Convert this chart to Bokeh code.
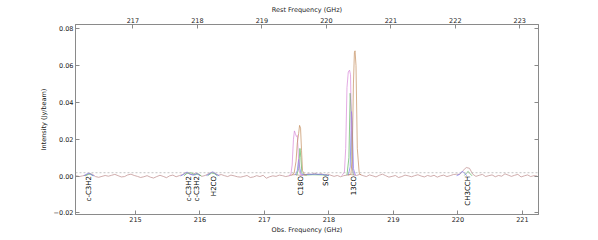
import numpy as np
from math import pi
from bokeh.plotting import figure
from bokeh.models import (Range1d, LinearAxis, FixedTicker, Span,
                          CustomJSTickFormatter)
from bokeh.core.properties import value
from bokeh.embed import file_html
from bokeh.resources import INLINE

# ---------------- data ----------------
obs_range = (214.07, 221.25)          # observed frequency range (GHz)
rest_offset = 2.04                    # rest - obs (GHz)
y_range = (-0.0209, 0.0823)
obs_ticks = [215, 216, 217, 218, 219, 220, 221]
rest_ticks = [217, 218, 219, 220, 221, 222, 223]
y_ticks = [-0.02, 0.0, 0.02, 0.04, 0.06, 0.08]
threshold = 0.0018                    # dashed noise level

# full-band spectrum, channel grid
base_start = 214.08
base_step = 0.05
base_mjy = [0.2, -0.3, 0.1, 0.6, 1.3, 1.0, -0.3, -0.7, -0.2, 0.3,
            -0.1, 0.4, 0.9, 0.2, -0.5, -0.3, 0.6, 1.0, 0.3, -0.2,
            -0.8, -0.4, 0.2, -0.6, -1.1, -0.3, 0.4, -0.2, -0.9, 0.1,
            0.5, -0.4, 0.2, 0.8, 1.8, 1.5, 0.7, 1.6, 0.9, -0.2,
            0.3, 1.2, 2.0, 1.6, 0.4, 0.8, 0.2, -0.3, 0.5, 0.1,
            -0.4, -0.6, -0.2, 0.3, -0.8, -0.5, 0.2, -0.3, 0.4, -1.2,
            -0.4, 0.1, -0.2, 0.5, 0.2, -0.3, 0.1, 0.6, 0.8, 0.5,
            0.3, 0.6, 1.2, 0.9, 1.5, 0.8, 1.3, 0.6, 1.0, 0.4,
            -0.2, 0.3, -0.4, 0.2, 0.5, 0.8, 0.6, 0.3, 0.9, 0.2,
            -0.3, 0.6, 0.1, -0.5, 0.4, 1.0, 0.2, -0.6, -0.2, 0.3,
            -0.8, -0.3, 0.5, 0.1, -0.4, 0.2, 0.7, 0.0, -0.5, 0.3,
            -0.2, 0.4, -0.6, 0.1, 0.5, -0.3, 0.2, 0.8, 1.0, 0.9,
            3.0, 4.6, 4.2, 1.0, -0.2, 0.4, 0.9, -0.3, 0.2, 0.6,
            -0.4, 0.3, -0.1, 1.2, 0.5, -0.2, 0.4, 0.9, -0.5, 0.1,
            0.6, -0.3, 0.2, 0.0]

# line segments of the other spectra (freq GHz, intensity mJy/beam)
pink_f = [[217.38, 217.41, 217.43, 217.45, 217.465, 217.48, 217.495, 217.51, 217.525, 217.54, 217.56, 217.6],
          [218.2, 218.24, 218.26, 218.28, 218.3, 218.32, 218.335, 218.35, 218.37, 218.4]]
pink_v = [[0.2, 1.0, 6.0, 20.0, 24.5, 23.0, 21.5, 22.0, 12.0, 3.0, 0.8, 0.3],
          [0.3, 2.0, 15.0, 48.0, 56.5, 57.5, 55.0, 25.0, 3.0, 0.4]]

tan_f = [[217.42, 217.46, 217.49, 217.51, 217.53, 217.545, 217.56, 217.575, 217.59, 217.62, 217.66],
         [218.3, 218.34, 218.36, 218.38, 218.395, 218.405, 218.42, 218.44, 218.47, 218.5]]
tan_v = [[0.5, 1.5, 8.0, 18.0, 23.0, 27.5, 26.0, 14.0, 3.0, 0.8, 0.5],
         [0.5, 1.0, 8.0, 50.0, 67.0, 68.0, 60.0, 15.0, 1.5, 0.5]]

blue_f = [[214.2, 214.25, 214.28, 214.31, 214.36],
          [215.7, 215.76, 215.8, 215.84, 215.9, 215.95, 216.0],
          [216.1, 216.16, 216.2, 216.24, 216.3],
          [217.48, 217.51, 217.53, 217.55, 217.57, 217.6, 217.7, 217.8, 217.9, 218.0],
          [218.3, 218.33, 218.35, 218.36, 218.38, 218.41],
          [219.98, 220.02, 220.05, 220.08, 220.11, 220.14]]
blue_v = [[0.1, 1.2, 1.6, 0.9, 0.0],
          [0.0, 1.2, 2.2, 1.0, 0.5, 1.4, 0.2],
          [0.2, 1.5, 2.3, 1.2, 0.1],
          [0.5, 3.0, 9.0, 4.0, 1.0, 0.8, 0.9, 1.0, 0.8, 0.3],
          [0.5, 5.0, 35.0, 30.0, 4.0, 0.5],
          [0.2, 0.8, 2.0, 2.4, 1.2, 0.2]]

green_f = [[214.22, 214.27, 214.3, 214.34],
           [215.75, 215.8, 215.86, 215.92, 215.97, 216.02],
           [216.12, 216.18, 216.22, 216.27],
           [217.5, 217.53, 217.55, 217.565, 217.58, 217.62, 217.75, 217.9, 218.0],
           [218.28, 218.31, 218.33, 218.345, 218.36, 218.38],
           [220.1, 220.13, 220.16, 220.19, 220.22]]
green_v = [[0.1, 0.9, 1.1, 0.1],
           [0.1, 1.5, 1.8, 0.6, 1.2, 0.1],
           [0.2, 1.6, 1.4, 0.1],
           [0.3, 4.0, 15.0, 10.0, 2.0, 0.5, 0.7, 0.6, 0.2],
           [0.5, 10.0, 45.0, 35.0, 5.0, 0.5],
           [0.3, 1.5, 2.5, 1.2, 0.1]]

line_names = ["c-C3H2", "c-C3H2", "c-C3H2", "H2CO", "C18O", "SO", "13CO", "CH3CCH"]
line_freqs = [214.275, 215.83, 215.95, 216.22, 217.56, 217.95, 218.39, 220.15]

# ---------------- plot ----------------
FONT = "DejaVu Sans"
FS = "6.5px"
FRAME = "#8a8a8a"

p = figure(width=590, height=236, output_backend="svg", toolbar_location=None,
           x_range=Range1d(*obs_range), y_range=Range1d(*y_range),
           min_border_left=75, min_border_right=52,
           min_border_top=24, min_border_bottom=20)
p.outline_line_color = FRAME
p.grid.visible = False
p.background_fill_color = "white"

base_f = [base_start + base_step * i for i in range(len(base_mjy))]
p.line(base_f, [v / 1000 for v in base_mjy], line_color="#c49898", line_width=0.8)

def draw(fs, vs, color):
    for f, v in zip(fs, vs):
        p.line(f, [x / 1000 for x in v], line_color=color, line_width=0.8, line_alpha=0.9)

draw(green_f, green_v, "#5cb85c")
draw(blue_f, blue_v, "#7373f0")
draw(pink_f, pink_v, "#d88ad8")
draw(tan_f, tan_v, "#c49060")

p.add_layout(Span(location=threshold, dimension="width", line_color="#b5b5b5",
                  line_dash="2 2", line_width=0.8))

p.text(x=line_freqs, y=[0.0] * len(line_freqs), text=line_names, angle=pi / 2,
       text_align="right", text_baseline="middle", text_font_size="7px",
       text_font=value(FONT), text_color="black")

def style(ax):
    ax.axis_line_color = FRAME
    ax.major_tick_line_color = FRAME
    ax.major_tick_in = 4
    ax.major_tick_out = 0
    ax.minor_tick_line_color = None
    ax.major_label_text_font = FONT
    ax.major_label_text_font_size = FS
    ax.major_label_text_color = "#222222"
    ax.major_label_standoff = 2
    ax.axis_label_text_font = FONT
    ax.axis_label_text_font_size = FS
    ax.axis_label_text_font_style = "normal"
    ax.axis_label_text_color = "#222222"
    ax.axis_label_standoff = 1

xa = p.xaxis[0]
xa.ticker = FixedTicker(ticks=obs_ticks)
xa.axis_label = "Obs. Frequency (GHz)"
style(xa)

ya = p.yaxis[0]
ya.ticker = FixedTicker(ticks=y_ticks)
ya.formatter = CustomJSTickFormatter(code="return tick.toFixed(2).replace('-', '\u2212');")
ya.axis_label = "Intensity (Jy/beam)"
style(ya)
ya.axis_label_standoff = 3

p.extra_x_ranges = {"rest": Range1d(obs_range[0] + rest_offset, obs_range[1] + rest_offset)}
top = LinearAxis(x_range_name="rest", ticker=FixedTicker(ticks=rest_ticks),
                 axis_label="Rest Frequency (GHz)")
style(top)
p.add_layout(top, "above")

right = LinearAxis(ticker=FixedTicker(ticks=y_ticks))
style(right)
right.formatter = CustomJSTickFormatter(code="return '';")
right.major_label_standoff = 0
p.add_layout(right, "right")

open("out.html", "w").write(file_html(p, INLINE))
